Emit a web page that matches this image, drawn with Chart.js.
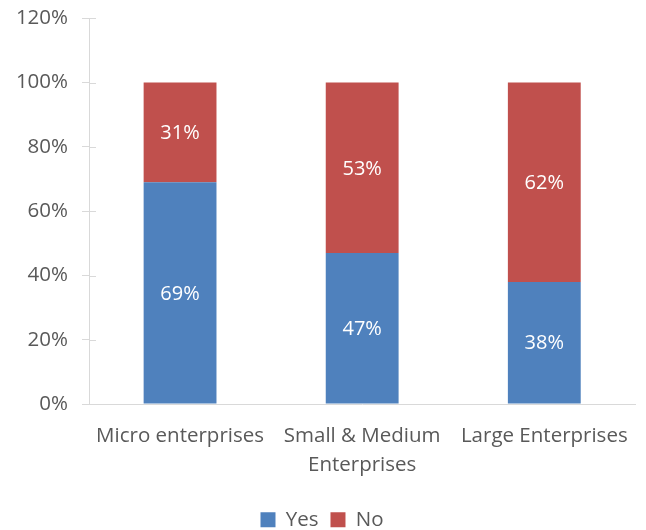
<!DOCTYPE html>
<html>
<head>
<meta charset="utf-8">
<script src="https://cdn.jsdelivr.net/npm/chart.js@4/dist/chart.umd.min.js"></script>
<style>
  html, body { margin: 0; padding: 0; background: #fff; overflow: hidden; }
  #clip { width: 646px; height: 530px; position: relative; overflow: hidden; }
  #wrap { width: 646px; height: 548px; position: absolute; left: 0; top: -8px; }
</style>
</head>
<body>
<div id="clip"><div id="wrap"><canvas id="chart"></canvas></div></div>
<script>
const categories = ["Micro enterprises", ["Small & Medium", "Enterprises"], "Large Enterprises"];
const yesValues = [69, 47, 38];
const noValues = [31, 53, 62];
const yTicks = [0, 20, 40, 60, 80, 100, 120];

const FONT = "'Open Sans', 'Liberation Sans', sans-serif";
const TEXT = "#595959";
const AXIS = "#d9d9d9";

// white value labels in the middle of each segment
const segmentLabels = {
  id: "segmentLabels",
  afterDatasetsDraw(chart) {
    const ctx = chart.ctx;
    ctx.save();
    ctx.fillStyle = "#fff";
    ctx.font = "20px " + FONT;
    ctx.textAlign = "center";
    ctx.textBaseline = "middle";
    chart.data.datasets.forEach((ds, i) => {
      chart.getDatasetMeta(i).data.forEach((bar, j) => {
        const mid = (bar.y + bar.base) / 2;
        ctx.fillText(ds.data[j] + "%", bar.x, mid + 1);
      });
    });
    ctx.restore();
  },
};

// tick marks crossing into the plot, like the original
const innerTicks = {
  id: "innerTicks",
  afterDraw(chart) {
    const y = chart.scales.y;
    const ctx = chart.ctx;
    ctx.save();
    ctx.strokeStyle = AXIS;
    ctx.lineWidth = 1;
    y.ticks.forEach((t) => {
      const py = Math.round(y.getPixelForValue(t.value)) + 0.5;
      ctx.beginPath();
      ctx.moveTo(y.right, py);
      ctx.lineTo(y.right + 7, py);
      ctx.stroke();
    });
    ctx.restore();
  },
};

new Chart(document.getElementById("chart"), {
  type: "bar",
  data: {
    labels: categories,
    datasets: [
      { label: "Yes", data: yesValues, backgroundColor: "#4f81bd" },
      { label: "No", data: noValues, backgroundColor: "#c0504d" },
    ],
  },
  options: {
    responsive: true,
    maintainAspectRatio: false,
    animation: false,
    layout: { padding: { top: 0, right: 2, left: 0, bottom: 0 } },
    datasets: { bar: { categoryPercentage: 1, barPercentage: 0.4 } },
    scales: {
      x: {
        stacked: true,
        grid: { display: false, drawTicks: false },
        border: { color: AXIS, width: 1 },
        ticks: {
          color: TEXT,
          font: { family: FONT, size: 20.5, lineHeight: 1.4 },
          padding: 18,
          maxRotation: 0,
        },
      },
      y: {
        stacked: true,
        min: 0,
        max: 120,
        afterBuildTicks(scale) {
          scale.ticks = yTicks.map((v) => ({ value: v }));
        },
        afterFit(scale) {
          scale.width = 89;
        },
        grid: { drawOnChartArea: false, color: AXIS, tickLength: 7 },
        border: { color: AXIS, width: 1 },
        ticks: {
          color: TEXT,
          font: { family: FONT, size: 20.5 },
          padding: 14,
          callback: (v) => v + "%",
        },
      },
    },
    plugins: {
      legend: {
        position: "bottom",
        labels: {
          color: TEXT,
          font: { family: FONT, size: 20.5 },
          boxWidth: 15,
          boxHeight: 15,
          padding: 12,
        },
      },
      tooltip: { enabled: false },
    },
  },
  plugins: [segmentLabels, innerTicks],
});
</script>
</body>
</html>
